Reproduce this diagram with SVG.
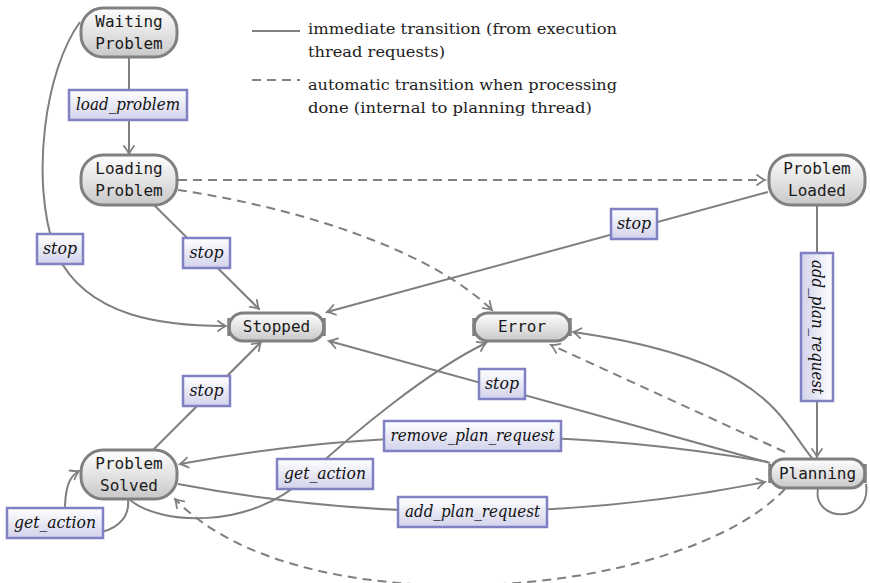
<svg xmlns="http://www.w3.org/2000/svg" width="870" height="583" viewBox="0 0 870 583">
<defs>
<linearGradient id="ng" x1="0" y1="0" x2="0" y2="1">
<stop offset="0" stop-color="#ffffff"/><stop offset="1" stop-color="#c8c8c8"/>
</linearGradient>
<linearGradient id="lg" x1="0" y1="0" x2="0" y2="1">
<stop offset="0" stop-color="#ffffff"/><stop offset="1" stop-color="#d2d2ec"/>
</linearGradient>
<linearGradient id="lgv" x1="0" y1="0" x2="1" y2="0">
<stop offset="0" stop-color="#d2d2ec"/><stop offset="1" stop-color="#ffffff"/>
</linearGradient>
<marker id="ar" viewBox="-10 -7 12 14" refX="0" refY="0" markerWidth="12" markerHeight="14" markerUnits="userSpaceOnUse" orient="auto">
<path d="M -8 -5 Q -3 -1.2 0 0 Q -3 1.2 -8 5" fill="none" stroke="#7f7f7f" stroke-width="1.8" stroke-linecap="round"/>
</marker>
</defs>
<style>
.e{fill:none;stroke:#7f7f7f;stroke-width:2}
.d{stroke-dasharray:9 6}
.a{marker-end:url(#ar)}
.n{fill:url(#ng);stroke:#808080;stroke-width:3}
.bar{stroke:#808080;stroke-width:3.5}
.nt{font-family:"DejaVu Sans Mono","Liberation Mono",monospace;font-size:16px;fill:#1a1a1a;text-anchor:middle}
.lb{fill:url(#lg);stroke:#8080c4;stroke-width:2.5}
.lt{font-family:"DejaVu Serif","Liberation Serif",serif;font-style:italic;font-size:16px;fill:#111;text-anchor:middle}
.leg{font-family:"DejaVu Serif","Liberation Serif",serif;font-size:15px;fill:#222}
</style>
<rect width="870" height="583" fill="#ffffff"/>
<g id="legend">
<line x1="252" y1="31" x2="300" y2="31" class="e"/>
<text x="308" y="34" class="leg" textLength="309" lengthAdjust="spacingAndGlyphs">immediate transition (from execution</text>
<text x="308" y="57" class="leg" textLength="137" lengthAdjust="spacingAndGlyphs">thread requests)</text>
<line x1="252" y1="80" x2="300" y2="80" class="e d"/>
<text x="308" y="90" class="leg" textLength="309" lengthAdjust="spacingAndGlyphs">automatic transition when processing</text>
<text x="308" y="113" class="leg" textLength="284" lengthAdjust="spacingAndGlyphs">done (internal to planning thread)</text>
</g>
<g id="connectors">
<path class="e a" d="M 129 57 L 129 154"/>
<path class="e a" d="M 80 22 C 45 70, 30 180, 55 250 C 85 320, 170 326, 226 326"/>
<path class="e a" d="M 154 205 L 259 309"/>
<path class="e d a" d="M 178 180 L 765 180"/>
<path class="e d a" d="M 178 190 C 300 208, 430 250, 492 310"/>
<path class="e a" d="M 768 192 L 327 312"/>
<path class="e a" d="M 817 206 L 817 457"/>
<path class="e a" d="M 770 463 L 329 341"/>
<path class="e a" d="M 812 458 C 780 420, 770 360, 573 332"/>
<path class="e d a" d="M 785 452 L 551 345"/>
<path class="e a" d="M 768 462 Q 472 410, 180 464"/>
<path class="e a" d="M 178 484 Q 472 540, 765 482"/>
<path class="e a" d="M 153 450 L 261 342"/>
<path class="e a" d="M 130 500 C 160 525, 250 530, 305 478 C 355 431, 430 370, 486 343"/>
<path class="e a" d="M 128 500 C 132 540, 60 545, 65 505 C 66 485, 70 476, 79 471"/>
<path class="e" d="M 818 489 C 812 522, 872 525, 866 484"/>
<path class="e d a" d="M 785 489 C 680 600, 300 630, 175 499"/>
<g id="edge-labels">
<rect class="lb" x="69" y="90" width="118" height="30"/><text class="lt" x="128" y="110" textLength="104" lengthAdjust="spacingAndGlyphs">load_problem</text>
<rect class="lb" x="37" y="234" width="46" height="30"/><text class="lt" x="60" y="254" textLength="34" lengthAdjust="spacingAndGlyphs">stop</text>
<rect class="lb" x="183" y="238" width="47" height="30"/><text class="lt" x="206.500" y="258" textLength="34" lengthAdjust="spacingAndGlyphs">stop</text>
<rect class="lb" x="611" y="209" width="46" height="30"/><text class="lt" x="634" y="229" textLength="34" lengthAdjust="spacingAndGlyphs">stop</text>
<rect class="lb" x="479" y="369" width="46" height="30"/><text class="lt" x="502" y="389" textLength="34" lengthAdjust="spacingAndGlyphs">stop</text>
<rect class="lb" x="183" y="376" width="47" height="30"/><text class="lt" x="206.500" y="396" textLength="34" lengthAdjust="spacingAndGlyphs">stop</text>
<rect x="801" y="253" width="32" height="148" fill="url(#lgv)" stroke="#8080c4" stroke-width="2.5"/><text class="lt" transform="translate(812 327) rotate(90)" textLength="134" lengthAdjust="spacingAndGlyphs">add_plan_request</text>
<rect class="lb" x="384" y="421" width="177" height="30"/><text class="lt" x="472.500" y="441" textLength="164" lengthAdjust="spacingAndGlyphs">remove_plan_request</text>
<rect class="lb" x="277" y="459" width="96" height="30"/><text class="lt" x="325" y="479" textLength="82" lengthAdjust="spacingAndGlyphs">get_action</text>
<rect class="lb" x="398" y="497" width="149" height="30"/><text class="lt" x="472.500" y="517" textLength="135" lengthAdjust="spacingAndGlyphs">add_plan_request</text>
<rect class="lb" x="7" y="508" width="96" height="30"/><text class="lt" x="55" y="528" textLength="82" lengthAdjust="spacingAndGlyphs">get_action</text>
</g>
</g>
<g id="waiting-problem">
<rect class="n" x="81" y="8" width="96" height="49" rx="22"/>
<text class="nt" x="129" y="27">Waiting</text><text class="nt" x="129" y="49">Problem</text>
</g>
<g id="loading-problem">
<rect class="n" x="81" y="155" width="96" height="50" rx="22"/>
<text class="nt" x="129" y="174">Loading</text><text class="nt" x="129" y="196">Problem</text>
</g>
<g id="problem-loaded">
<rect class="n" x="769" y="155" width="96" height="50" rx="22"/>
<text class="nt" x="817" y="174">Problem</text><text class="nt" x="817" y="196">Loaded</text>
</g>
<g id="problem-solved">
<rect class="n" x="81" y="450" width="96" height="49" rx="22"/>
<text class="nt" x="129" y="469">Problem</text><text class="nt" x="129" y="491">Solved</text>
</g>
<g id="stopped">
<rect class="n" x="229" y="313" width="95" height="28" rx="14"/>
<line class="bar" x1="229" y1="318" x2="229" y2="336"/><line class="bar" x1="324" y1="318" x2="324" y2="336"/>
<text class="nt" x="276.500" y="332">Stopped</text>
</g>
<g id="error">
<rect class="n" x="474" y="313" width="96" height="28" rx="14"/>
<line class="bar" x1="474" y1="318" x2="474" y2="336"/><line class="bar" x1="570" y1="318" x2="570" y2="336"/>
<text class="nt" x="522" y="332">Error</text>
</g>
<g id="planning">
<rect class="n" x="770" y="459" width="95" height="29" rx="14"/>
<line class="bar" x1="770" y1="464" x2="770" y2="483"/><line class="bar" x1="865" y1="464" x2="865" y2="483"/>
<text class="nt" x="817.500" y="479">Planning</text>
</g>
</svg>
